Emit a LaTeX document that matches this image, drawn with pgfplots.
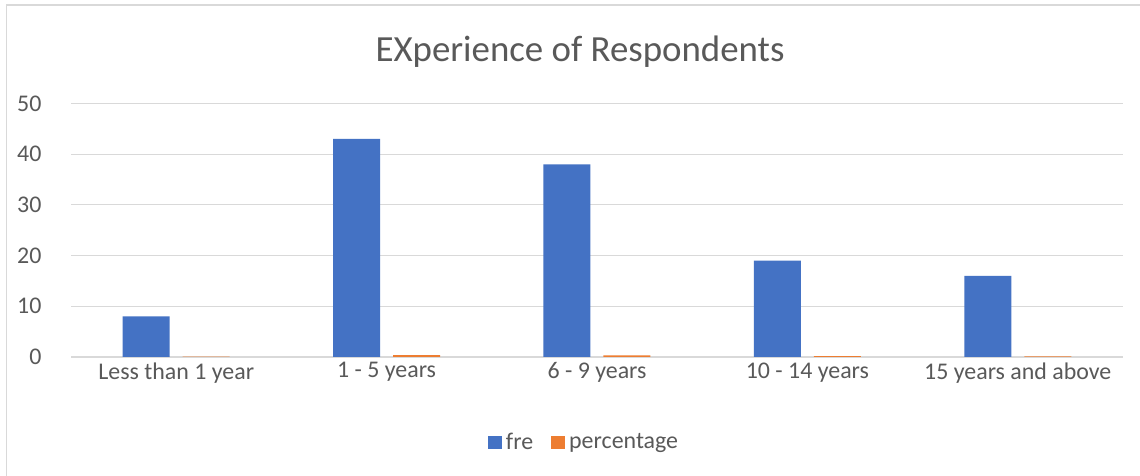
\documentclass[border=0pt]{standalone}
\usepackage{fontspec}
\setmainfont{Carlito}
\usepackage{pgfplots}
\pgfplotsset{compat=1.18}
\definecolor{fblue}{HTML}{4472C4}
\definecolor{forange}{HTML}{ED7D31}
\definecolor{txt}{HTML}{595959}
\definecolor{gridc}{HTML}{D9D9D9}
\begin{document}
\begin{tikzpicture}[x=1bp,y=1bp]
\useasboundingbox (0,0) rectangle (1140,476);
\fill[white] (0,0) rectangle (1140,476);
\draw[gridc, line width=1.5bp] (6.5,-5) -- (6.5,471) -- (1145,471);
\node[txt, font=\fontsize{37}{44}\selectfont] at (580,424) {EXperience of Respondents};
\begin{axis}[at={(71bp,119bp)}, anchor=south west, scale only axis,
  width=1052bp, height=253.5bp,
  ymin=0, ymax=50, ytick={0,10,20,30,40,50},
  xmin=-0.5, xmax=4.5, xtick={0,1,2,3,4},
  xticklabels={Less than 1 year, 1 - 5 years, 6 - 9 years, 10 - 14 years, 15 years and above},
  axis line style={draw=none},
  major tick length=0pt,
  ymajorgrids, grid style={gridc, line width=1.2bp},
  ybar=13bp, bar width=47bp,
  tick label style={txt, font=\fontsize{24}{28}\selectfont},
  /pgf/number format/assume math mode=true,
  yticklabel style={xshift=-26bp},
  xticklabel style={yshift=-2bp},
  legend style={at={(0.4877,-0.335)}, anchor=center, draw=none, fill=none,
    legend columns=2, font=\fontsize{24}{28}\selectfont, text=txt,
    /tikz/every odd column/.append style={column sep=2bp},
    /tikz/every even column/.append style={column sep=16bp}},
  legend image code/.code={\fill[#1] (0bp,-7bp) rectangle (14bp,6bp);},
]
\addplot[fill=fblue, draw=none] coordinates {(0,8) (1,43) (2,38) (3,19) (4,16)};
\addplot[fill=forange, draw=none] coordinates {(0,0.06) (1,0.35) (2,0.31) (3,0.15) (4,0.13)};
\legend{fre, percentage}
\end{axis}
\end{tikzpicture}
\end{document}
